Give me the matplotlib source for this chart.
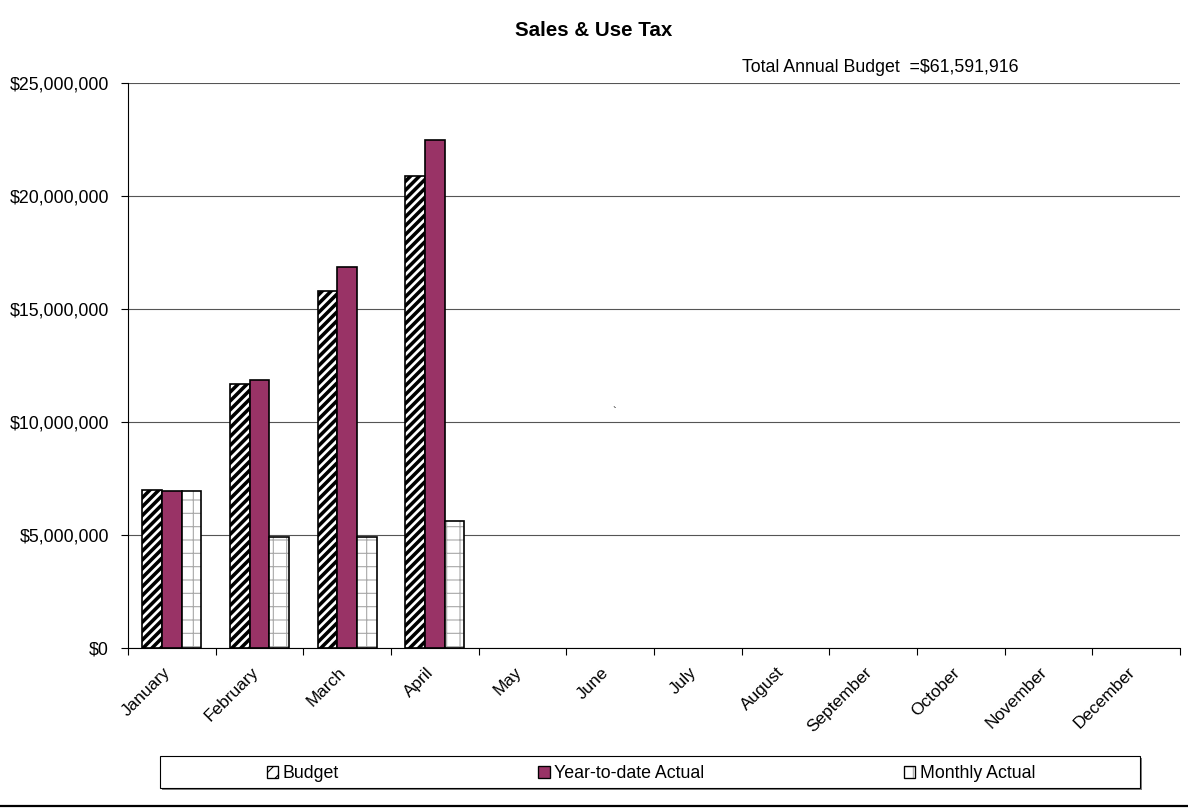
import matplotlib
matplotlib.use("Agg")
import matplotlib.pyplot as plt
import matplotlib.transforms as mtransforms
import numpy as np
from matplotlib.lines import Line2D
from matplotlib.patches import Patch, Rectangle
from matplotlib.ticker import FuncFormatter, MultipleLocator

months = ["January", "February", "March", "April", "May", "June", "July",
          "August", "September", "October", "November", "December"]
budget = [7.00e6, 11.70e6, 15.80e6, 20.90e6]
ytd_actual = [6.93e6, 11.88e6, 16.85e6, 22.50e6]
monthly_actual = [6.93e6, 4.92e6, 4.92e6, 5.63e6]
series_names = ["Budget", "Year-to-date Actual", "Monthly Actual"]
title = "Sales & Use Tax"
note = "Total Annual Budget  =$61,591,916"

W, H, DPI = 1188, 808, 80
BODY = 16.0
PURPLE = "#993366"

plt.rcParams["font.family"] = ["Liberation Sans", "DejaVu Sans"]
plt.rcParams["font.size"] = BODY

fig = plt.figure(figsize=(W / DPI, H / DPI), dpi=DPI)
ax = fig.add_axes([128 / W, 1 - 648 / H, (1180 - 128) / W, (648 - 83) / H])

x = np.arange(len(budget))
w = 0.224


def hatch_lw(bars, lw):
    for b in bars:
        if hasattr(b, "set_hatch_linewidth"):
            b.set_hatch_linewidth(lw)


with plt.rc_context({"hatch.linewidth": 3.2}):
    b1 = ax.bar(x - w, budget, w, color="white", edgecolor="black",
                hatch="///", linewidth=1.5, zorder=3)
    hatch_lw(b1, 3.2)
b2 = ax.bar(x, ytd_actual, w, color=PURPLE, edgecolor="black",
            linewidth=1.5, zorder=3)
with plt.rc_context({"hatch.linewidth": 1.0}):
    b3 = ax.bar(x + w, monthly_actual, w, color="white", edgecolor="#a8a8a8",
                hatch="+", linewidth=0, zorder=3)
    hatch_lw(b3, 1.0)
ax.bar(x + w, monthly_actual, w, color="none", edgecolor="black",
       linewidth=1.5, zorder=4)

ax.set_xlim(-0.5, len(months) - 0.5)
ax.set_ylim(0, 25e6)
ax.yaxis.set_major_locator(MultipleLocator(5e6))
ax.yaxis.set_major_formatter(FuncFormatter(lambda v, p: f"${v:,.0f}"))
ax.grid(axis="y", color="#555555", linewidth=1.0, zorder=0)
ax.set_axisbelow(True)
for s in ["top", "right"]:
    ax.spines[s].set_visible(False)
for s in ["left", "bottom"]:
    ax.spines[s].set_linewidth(1.0)
ax.tick_params(axis="y", length=6, width=1, pad=11, labelsize=BODY)

ax.set_xticks(np.arange(len(months)))
ax.set_xticklabels(months, rotation=45, ha="right", va="top",
                   rotation_mode="anchor", fontsize=15.5)
ax.set_xticks(np.arange(len(months) + 1) - 0.5, minor=True)
ax.tick_params(axis="x", which="major", length=0, pad=15)
ax.tick_params(axis="x", which="minor", length=6, width=1)
shift = mtransforms.ScaledTranslation(-9 / DPI, 0, fig.dpi_scale_trans)
for lab in ax.get_xticklabels():
    lab.set_transform(lab.get_transform() + shift)

fig.text(594 / W, 1 - 30 / H, title, ha="center", va="center",
         fontsize=18.5, fontweight="bold")
fig.text(742 / W, 1 - 68 / H, note, ha="left", va="center", fontsize=BODY)
fig.text(614 / W, 1 - 412 / H, "`", ha="center", va="center", fontsize=10)

# legend box
fig.add_artist(Rectangle((162 / W, 1 - 790 / H), 980 / W, 32 / H,
                         transform=fig.transFigure, facecolor="#808080",
                         edgecolor="none", zorder=1))
fig.add_artist(Rectangle((160 / W, 1 - 788 / H), 980 / W, 32 / H,
                         transform=fig.transFigure, facecolor="white",
                         edgecolor="black", linewidth=1, zorder=2))

with plt.rc_context({"hatch.linewidth": 2.5}):
    h1 = Patch(facecolor="white", edgecolor="black", hatch="//", linewidth=1.2)
h2 = Patch(facecolor=PURPLE, edgecolor="black", linewidth=1.2)
with plt.rc_context({"hatch.linewidth": 1.0}):
    h3a = Patch(facecolor="white", edgecolor="#a8a8a8", hatch="+", linewidth=0)
h3b = Patch(facecolor="none", edgecolor="black", linewidth=1.2)
leg = fig.legend([h1, h2, (h3a, h3b)], series_names, ncol=3, frameon=False,
                 loc="center", bbox_to_anchor=(651 / W, 1 - 774 / H),
                 handlelength=0.65, handleheight=0.65, handletextpad=0.25,
                 columnspacing=11.2, fontsize=BODY)
leg.set_zorder(3)

fig.add_artist(Line2D([0, 1], [1 - 806 / H, 1 - 806 / H],
                      transform=fig.transFigure, color="black", linewidth=2))

fig.savefig("out.png", dpi=DPI)
